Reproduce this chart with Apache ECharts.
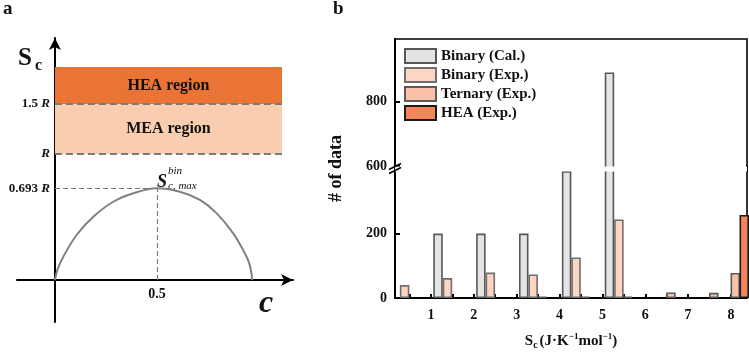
<!DOCTYPE html>
<html>
<head>
<meta charset="utf-8">
<script src="https://cdn.jsdelivr.net/npm/echarts@6.0.0/dist/echarts.min.js"></script>
<style>
  html, body { margin: 0; padding: 0; background: #fff; }
  #main { width: 749px; height: 355px; }
</style>
</head>
<body>
<div id="main"></div>
<script>
// ---- panel a : schematic ----
var curveC = [0, 0.012, 0.041, 0.106, 0.188, 0.286, 0.384, 0.498, 0.613, 0.711, 0.793, 0.874, 0.931, 0.955, 0.967];
var curveS = [0, 0.08, 0.185, 0.357, 0.502, 0.621, 0.688, 0.728, 0.701, 0.635, 0.529, 0.370, 0.212, 0.12, 0];
var levelPeak = 0.728;      // 0.693 R (drawn height)
var levelR = 1.0;           // R
var levelR15 = 1.397;       // 1.5 R
var levelTop = 1.69;        // top of HEA band
var regionEnd = 1.113;      // right end of the bands
var levelNames = ['0.693 ', '', '1.5 '];

// ---- panel b : histogram ----
var binStart = [0, 1, 2, 3, 4, 5, 6, 7, 7.5];
var binaryCal = [0, 200, 200, 200, 394, 890, 0, 0, 0];
var binaryExp = [40, 62, 79, 73, 126, 244, 0, 0, 0];
var ternaryExp = [0, 0, 0, 4, 4, 4, 17, 16, 78];
var heaExp = [0, 0, 0, 0, 0, 0, 0, 0, 258];
var xLabelValues = [1, 2, 3, 4, 5, 6, 7, 8];
var xTickValues = [0.5, 1, 1.5, 2, 2.5, 3, 3.5, 4, 4.5, 5, 5.5, 6, 6.5, 7, 7.5, 8];
var yTickValues = [0, 200, 600, 800];
var breakStart = 394, breakEnd = 600;

var serif = '"Liberation Serif", "Times New Roman", serif';

var chart = echarts.init(document.getElementById('main'));

// bar centre inside a bin, per series
var slot = [0.165, 0.385, 0.6, 0.81];
function barData(values, k) {
  var out = [];
  for (var i = 0; i < values.length; i++) {
    if (values[i] > 0) out.push([binStart[i] + slot[k], values[i]]);
  }
  return out;
}

function barSeries(name, values, k, fill, border) {
  return {
    name: name,
    type: 'bar',
    xAxisIndex: 1,
    yAxisIndex: 1,
    barWidth: 9.5,
    barGap: '-100%',
    itemStyle: { color: fill, borderColor: border, borderWidth: 1.6 },
    data: barData(values, k)
  };
}

var curveData = curveC.map(function (c, i) { return [c, curveS[i]]; });
var dash = { color: '#7a7a7a', type: [7, 4], width: 2 };
var thinDash = { color: '#7a7a7a', type: [5, 3], width: 1.2 };
var boldSerif = function (size) {
  return { fontFamily: serif, fontWeight: 'bold', fontSize: size, color: '#111' };
};

// level label on the left of the y axis (start of a dashed line)
function levelLabel(name) {
  return {
    show: true, position: 'start', distance: 5,
    formatter: (name ? '{n|' + name + '}' : '') + '{i|R}',
    rich: {
      n: boldSerif(13),
      i: Object.assign(boldSerif(13), { fontStyle: 'italic' })
    }
  };
}

var option = {
  animation: false,
  backgroundColor: '#fff',
  grid: [
    { left: 17, top: 38, width: 276, height: 284, show: false, outerBoundsMode: 'none' },
    { left: 395, top: 39, right: 2, bottom: 57, show: true, borderColor: '#000', borderWidth: 1.6, outerBoundsMode: 'none' }
  ],
  legend: {
    orient: 'vertical',
    left: 404,
    top: 48,
    padding: 0,
    itemWidth: 31,
    itemHeight: 14,
    itemGap: 3,
    icon: 'rect',
    textStyle: { fontFamily: serif, fontWeight: 'bold', fontSize: 15, lineHeight: 14, color: '#111' },
    data: ['Binary (Cal.)', 'Binary (Exp.)', 'Ternary (Exp.)', 'HEA (Exp.)']
  },
  xAxis: [
    {
      gridIndex: 0, type: 'value', min: -0.186, max: 1.167,
      axisLine: { onZero: true, symbol: ['none', 'arrow'], symbolSize: [9, 12], lineStyle: { color: '#000', width: 2 } },
      axisTick: { show: false },
      splitLine: { show: false },
      axisLabel: { show: false }
    },
    {
      gridIndex: 1, type: 'value', min: 0.161, max: 8.374,
      axisLine: { onZero: false, lineStyle: { color: '#000', width: 2 } },
      axisTick: { inside: true, length: 4, customValues: xTickValues, lineStyle: { color: '#000', width: 2 } },
      splitLine: { show: false },
      axisLabel: Object.assign({ customValues: xLabelValues, margin: 10 }, boldSerif(14)),
      name: '{n|S}{sub|c}{n|(J·K}{sup|−1}{n|mol}{sup|−1}{n|)}',
      nameLocation: 'middle',
      nameGap: 34,
      nameTextStyle: {
        rich: {
          n: boldSerif(15),
          sub: Object.assign(boldSerif(10), { verticalAlign: 'bottom', padding: [8, 2, 0, 0] }),
          sup: Object.assign(boldSerif(9), { verticalAlign: 'top', padding: [0, 0, 8, 0] })
        }
      }
    }
  ],
  yAxis: [
    {
      gridIndex: 0, type: 'value', min: -0.333, max: 1.92,
      axisLine: { onZero: true, symbol: ['none', 'arrow'], symbolSize: [9, 12], lineStyle: { color: '#000', width: 2 } },
      axisTick: { show: false },
      splitLine: { show: false },
      axisLabel: { show: false }
    },
    {
      gridIndex: 1, type: 'value', min: 0, max: 994,
      breaks: [{ start: breakStart, end: breakEnd, gap: '2%' }],
      breakArea: {
        show: true,
        zigzagAmplitude: 0,
        itemStyle: { color: '#fff', borderColor: '#fff', borderWidth: 0, opacity: 1 }
      },
      axisLine: { onZero: false, lineStyle: { color: '#000', width: 2 } },
      axisTick: { inside: true, length: 5, customValues: yTickValues, lineStyle: { color: '#000', width: 2 } },
      splitLine: { show: false },
      axisLabel: Object.assign({ customValues: yTickValues, margin: 8 }, boldSerif(14)),
      name: '# of data',
      nameLocation: 'middle',
      nameGap: 50,
      nameTextStyle: boldSerif(18)
    }
  ],
  series: [
    {
      type: 'line',
      xAxisIndex: 0,
      yAxisIndex: 0,
      smooth: 0.35,
      showSymbol: false,
      lineStyle: { color: '#808080', width: 2 },
      data: curveData,
      markArea: {
        silent: true,
        label: Object.assign({ position: 'inside' }, boldSerif(16)),
        data: [
          [{ name: 'HEA region', coord: [0, levelR15], itemStyle: { color: '#e97436' } }, { coord: [regionEnd, levelTop] }],
          [{ name: 'MEA region', coord: [0, levelR], itemStyle: { color: '#f9cdb0' } }, { coord: [regionEnd, levelR15] }]
        ]
      },
      markLine: {
        silent: true,
        symbol: ['none', 'none'],
        label: { show: false },
        data: [
          [{ coord: [0, levelR15], lineStyle: dash, label: levelLabel(levelNames[2]) }, { coord: [regionEnd, levelR15] }],
          [{ coord: [0, levelR], lineStyle: dash, label: levelLabel(levelNames[1]) }, { coord: [regionEnd, levelR] }],
          [{ coord: [0, levelPeak], lineStyle: thinDash, label: levelLabel(levelNames[0]) }, { coord: [0.5, levelPeak] }],
          [{
            coord: [0.5, 0], lineStyle: thinDash,
            label: Object.assign({ show: true, position: 'start', distance: 7, formatter: '0.5' }, boldSerif(14))
          }, { coord: [0.5, levelPeak] }]
        ]
      }
    },
    barSeries('Binary (Cal.)', binaryCal, 0, '#e4e4e4', '#575757'),
    barSeries('Binary (Exp.)', binaryExp, 1, '#fdd5c4', '#6e6e6e'),
    barSeries('Ternary (Exp.)', ternaryExp, 2, '#fbc0a8', '#5a5a5a'),
    barSeries('HEA (Exp.)', heaExp, 3, '#f5845a', '#1a1a1a')
  ],
  graphic: [
    { id: 'ta', type: 'text', left: 3, top: 0, style: { text: 'a', font: 'bold 19px ' + serif, fill: '#111' } },
    { id: 'tb', type: 'text', left: 333, top: 0, style: { text: 'b', font: 'bold 19px ' + serif, fill: '#111' } },
    { id: 'sc1', type: 'text', left: 18, top: 46, style: { text: 'S', font: 'bold 25px ' + serif, fill: '#111' } },
    { id: 'sc2', type: 'text', left: 35, top: 58, style: { text: 'c', font: 'bold 16px ' + serif, fill: '#111' } },
    { id: 'cx', type: 'text', left: 259, top: 288, style: { text: 'c', font: 'italic bold 32px ' + serif, fill: '#111' } },
    { id: 'sm1', type: 'text', left: 157, top: 173, style: { text: 'S', font: 'italic bold 18px ' + serif, fill: '#111' } },
    { id: 'sm2', type: 'text', left: 168, top: 166, style: { text: 'bin', font: 'italic 11px ' + serif, fill: '#111' } },
    { id: 'sm3', type: 'text', left: 168, top: 181, style: { text: 'c, max', font: 'italic 11px ' + serif, fill: '#111' } }
  ]
};

chart.setOption(option);

// break marks on the y axis and the right frame, placed from the axis scale
var yLo = chart.convertToPixel({ yAxisIndex: 1 }, breakStart);
var yHi = chart.convertToPixel({ yAxisIndex: 1 }, breakEnd);
var xL = chart.convertToPixel({ xAxisIndex: 1 }, 0.161);
var xR = chart.convertToPixel({ xAxisIndex: 1 }, 8.374);
var yMid = (yLo + yHi) / 2;
chart.setOption({
  graphic: [
    { id: 'frameR', type: 'line', shape: { x1: xR, y1: yLo + 1, x2: xR, y2: yHi - 1 }, style: { stroke: '#000', lineWidth: 1.6 }, z: 100 },
    { id: 'axisL', type: 'line', shape: { x1: xL, y1: yLo + 1, x2: xL, y2: yHi - 1 }, style: { stroke: '#000', lineWidth: 2 }, z: 100 },
    { id: 'brk1', type: 'line', shape: { x1: xL - 6, y1: yMid + 1, x2: xL + 6, y2: yMid - 5 }, style: { stroke: '#000', lineWidth: 1.6 }, z: 101 },
    { id: 'brk2', type: 'line', shape: { x1: xL - 6, y1: yMid + 5, x2: xL + 6, y2: yMid - 1 }, style: { stroke: '#000', lineWidth: 1.6 }, z: 101 }
  ]
});
</script>
</body>
</html>
